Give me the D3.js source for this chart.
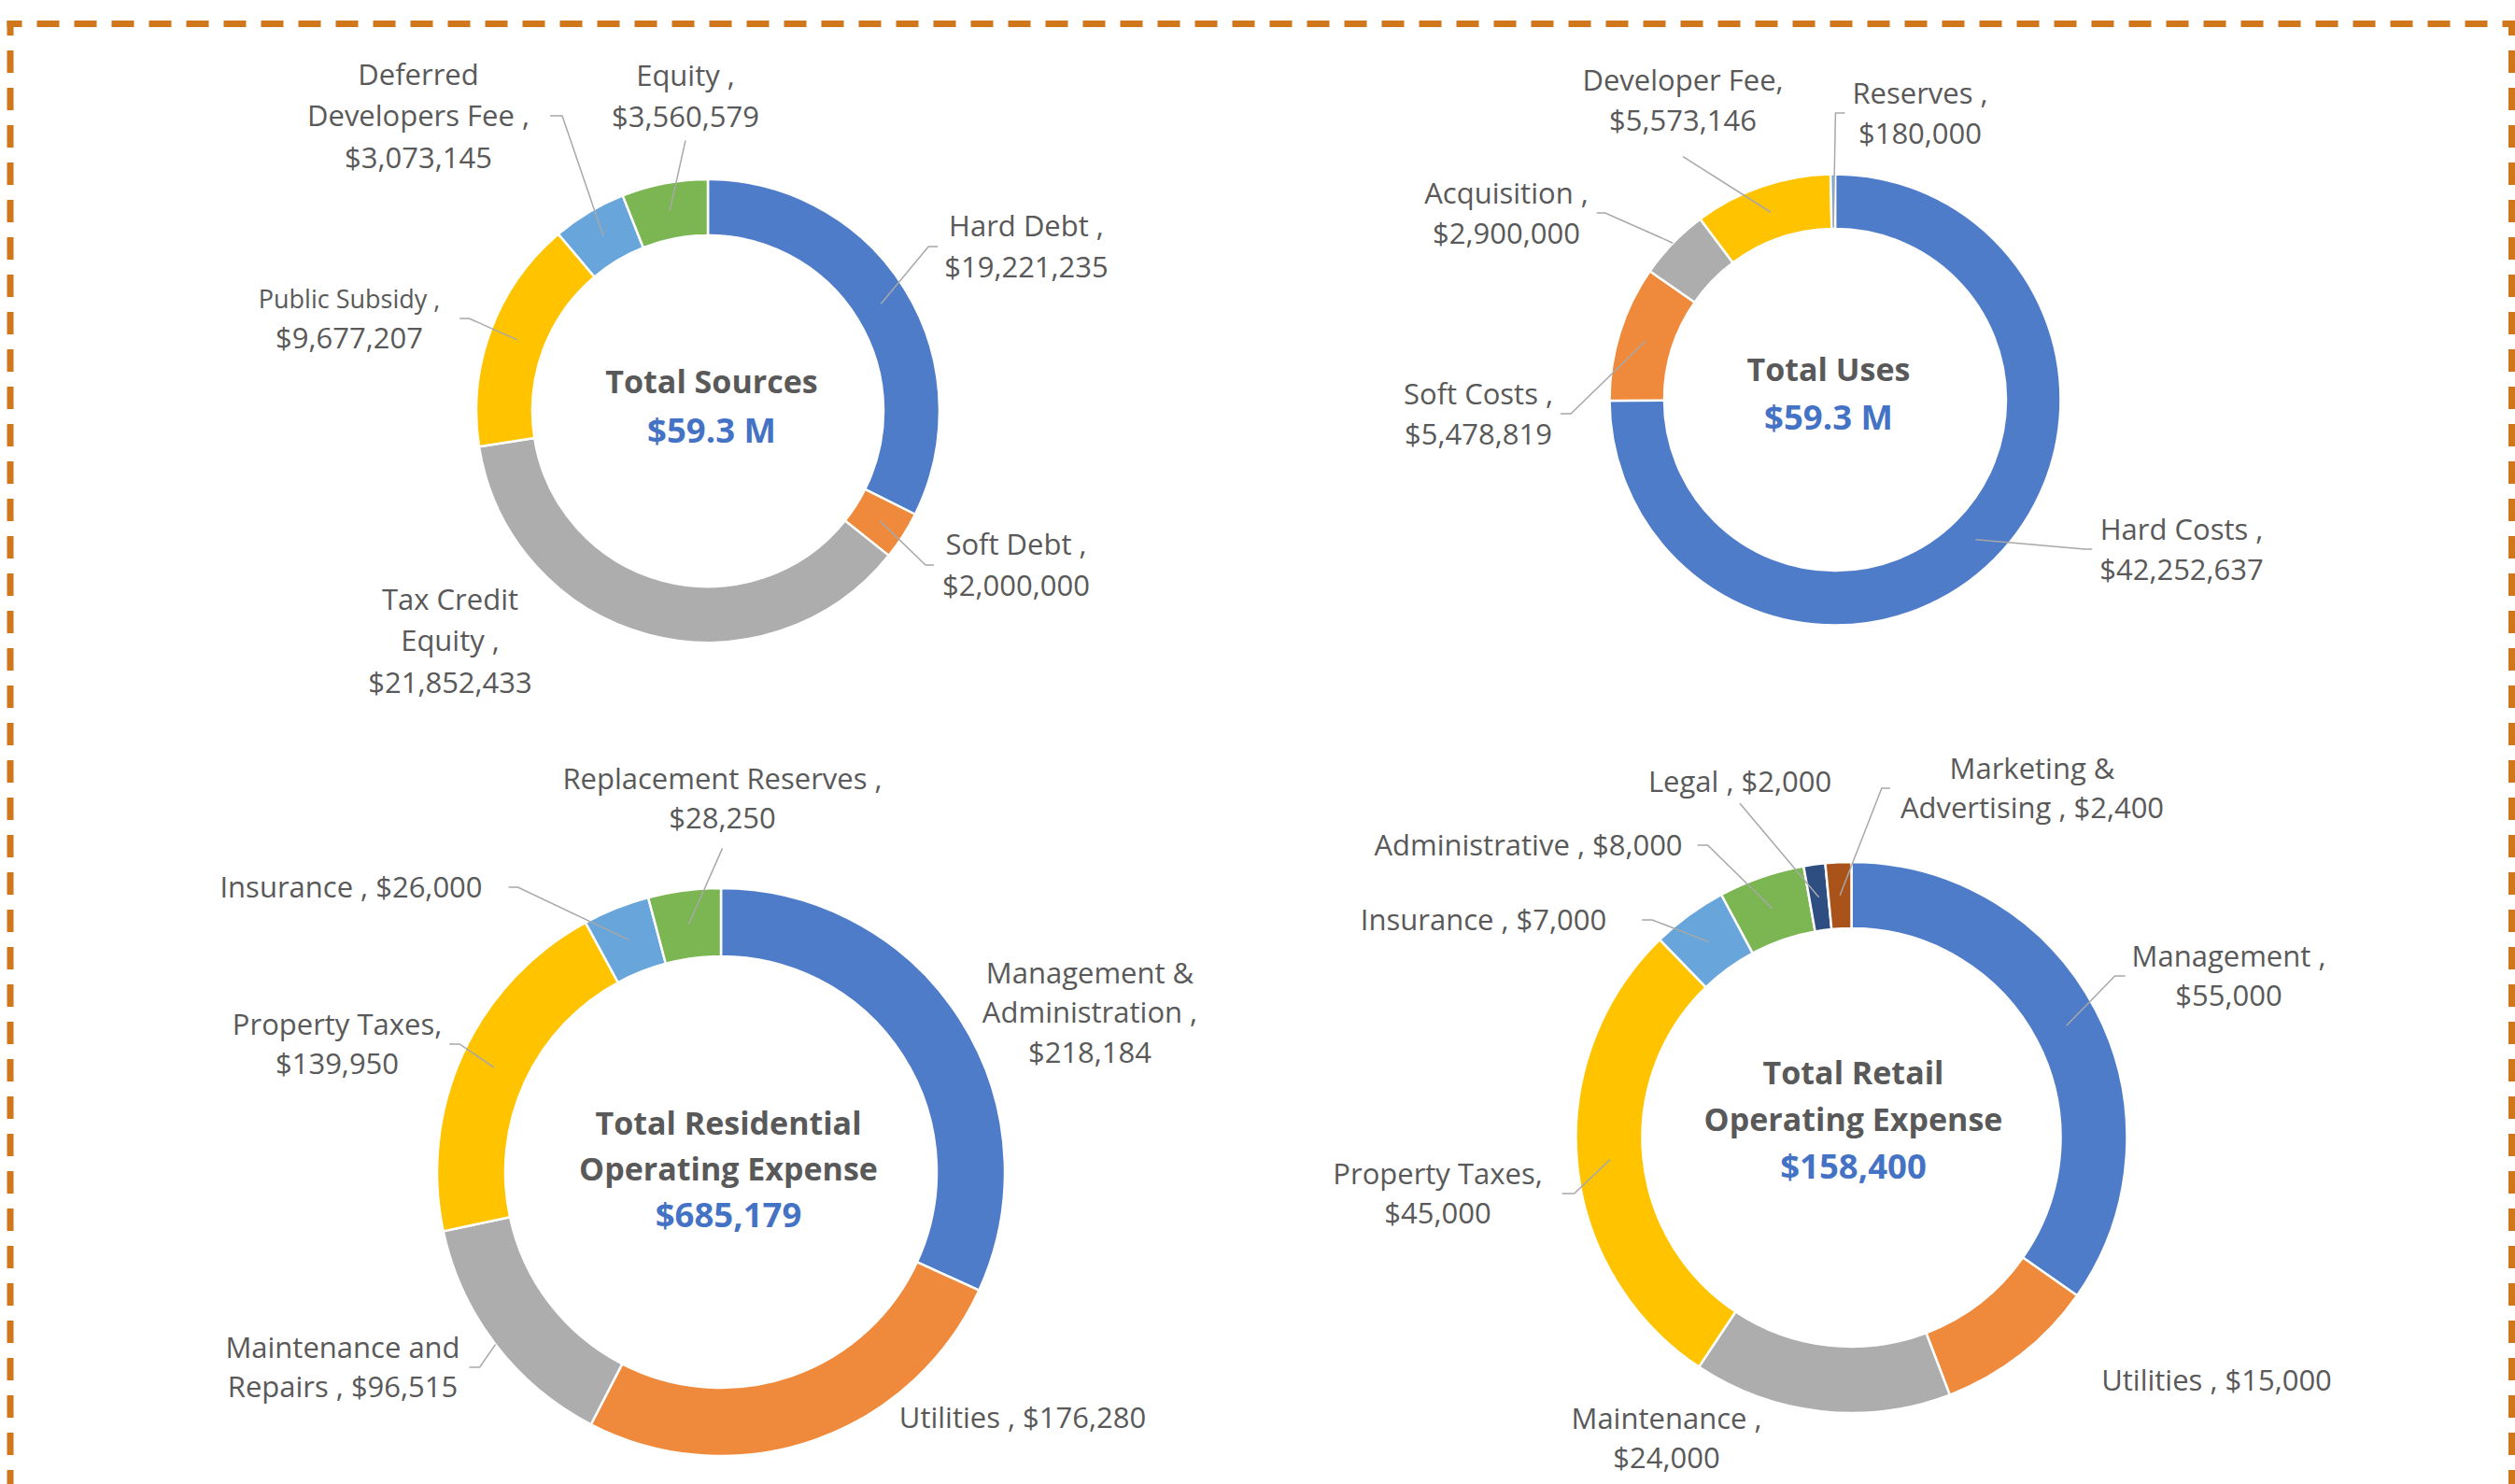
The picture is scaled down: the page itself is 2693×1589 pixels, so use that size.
<!DOCTYPE html>
<html><head><meta charset="utf-8">
<script src="https://cdn.jsdelivr.net/npm/d3@7"></script>
<style>html,body{margin:0;padding:0;background:#fff}svg{display:block}</style>
</head><body>
<svg id="c" width="2693" height="1589"></svg>
<script>
// ---------------- DATA ----------------
const sourcesCategories = ["Hard Debt","Soft Debt","Tax Credit Equity","Public Subsidy","Deferred Developers Fee","Equity"];
const sourcesValues = [19221235, 2000000, 21852433, 9677207, 3073145, 3560579];
const sourcesLabelLines = [["Hard Debt ,","{v}"],["Soft Debt ,","{v}"],["Tax Credit","Equity ,","{v}"],["Public Subsidy ,","{v}"],["Deferred","Developers Fee ,","{v}"],["Equity ,","{v}"]];
const sourcesTitle = ["Total Sources"];
const sourcesTotal = "$59.3 M";

const usesCategories = ["Hard Costs","Soft Costs","Acquisition","Developer Fee","Reserves"];
const usesValues = [42252637, 5478819, 2900000, 5573146, 180000];
const usesLabelLines = [["Hard Costs ,","{v}"],["Soft Costs ,","{v}"],["Acquisition ,","{v}"],["Developer Fee,","{v}"],["Reserves ,","{v}"]];
const usesTitle = ["Total Uses"];
const usesTotal = "$59.3 M";

const residentialCategories = ["Management & Administration","Utilities","Maintenance and Repairs","Property Taxes","Insurance","Replacement Reserves"];
const residentialValues = [218184, 176280, 96515, 139950, 26000, 28250];
const residentialLabelLines = [["Management &","Administration ,","{v}"],["Utilities , {v}"],["Maintenance and","Repairs , {v}"],["Property Taxes,","{v}"],["Insurance , {v}"],["Replacement Reserves ,","{v}"]];
const residentialTitle = ["Total Residential","Operating Expense"];
const residentialTotal = "$685,179";

const retailCategories = ["Management","Utilities","Maintenance","Property Taxes","Insurance","Administrative","Legal","Marketing & Advertising"];
const retailValues = [55000, 15000, 24000, 45000, 7000, 8000, 2000, 2400];
const retailLabelLines = [["Management ,","{v}"],["Utilities , {v}"],["Maintenance ,","{v}"],["Property Taxes,","{v}"],["Insurance , {v}"],["Administrative , {v}"],["Legal , {v}"],["Marketing &","Advertising , {v}"]];
const retailTitle = ["Total Retail","Operating Expense"];
const retailTotal = "$158,400";

// ---------------- STYLE / LAYOUT ----------------
const palette = ["#4E7CC9","#EF8A3C","#ADADAD","#FFC300","#67A5DA","#7BB652","#2E4D80","#A9521A"];
const TEXT = "#595959", BLUE = "#4472C4", LEADER = "#A8A8A8";
const FONT = "'Open Sans', sans-serif";
const LABEL_SIZE = 31, TITLE_SIZE = 34, TOTAL_SIZE = 36.5;

const layouts = {
  sources: {cx:758, cy:440, R:248, r:188, lh:44.5, tdx:4, tdy:-31, tstep:52,
    labels:[
      {dx:341, dy:-176, type:"side", gap:7, elbow:10},
      {dx:330, dy:165, type:"side", gap:9, elbow:9},
      {dx:-276, dy:246, type:"none"},
      {dx:-384, dy:-99, type:"side", gap:21, elbow:10, firstSize:27, lh:41},
      {dx:-310, dy:-316, type:"side", gap:22, elbow:13},
      {dx:-24, dy:-337, type:"below", gap:14}
    ]},
  uses: {cx:1965, cy:428, R:241.5, r:183, lh:43, tdx:-7, tdy:-32.5, tstep:51,
    labels:[
      {dx:371, dy:160, type:"side", gap:8, elbow:8},
      {dx:-382, dy:15, type:"side", gap:8, elbow:11},
      {dx:-352, dy:-200, type:"side", gap:9, elbow:9, lr:1},
      {dx:-163, dy:-321, type:"below", gap:28},
      {dx:91, dy:-307, type:"side", gap:8, elbow:10, lr:0.04}
    ]},
  residential: {cx:772, cy:1255, R:304, r:231, lh:42.5, tdx:8, tdy:-52, tstep:49,
    labels:[
      {dx:395, dy:-171, type:"none"},
      {dx:323, dy:263, type:"none"},
      {dx:-405, dy:209, type:"side", gap:10, elbow:11, lr:1},
      {dx:-411, dy:-137, type:"side", gap:8, elbow:11},
      {dx:-396, dy:-305, type:"side", gap:28, elbow:10},
      {dx:1.5, dy:-400, type:"below", gap:21}
    ]},
  retail: {cx:1982.5, cy:1218, R:295, r:224, lh:42.5, tdx:2, tdy:-69, tstep:50,
    labels:[
      {dx:404, dy:-173, type:"side", gap:7, elbow:11},
      {dx:391, dy:260, type:"none"},
      {dx:-198, dy:322, type:"none"},
      {dx:-443, dy:60, type:"side", gap:21, elbow:13},
      {dx:-394, dy:-233, type:"side", gap:38, elbow:11},
      {dx:-346, dy:-313, type:"side", gap:16, elbow:11},
      {dx:-119.5, dy:-381, type:"below", gap:12},
      {dx:193.5, dy:-374, type:"side", gap:11, elbow:9}
    ]}
};

const charts = [
  {key:"sources", cats:sourcesCategories, vals:sourcesValues, lines:sourcesLabelLines, title:sourcesTitle, total:sourcesTotal},
  {key:"uses", cats:usesCategories, vals:usesValues, lines:usesLabelLines, title:usesTitle, total:usesTotal},
  {key:"residential", cats:residentialCategories, vals:residentialValues, lines:residentialLabelLines, title:residentialTitle, total:residentialTotal},
  {key:"retail", cats:retailCategories, vals:retailValues, lines:retailLabelLines, title:retailTitle, total:retailTotal}
];

// ---------------- DRAW ----------------
const svg = d3.select("#c");
svg.append("rect").attr("width",2693).attr("height",1589).attr("fill","#fff");

// dashed frame
const frame = svg.append("g").attr("fill","none").attr("stroke","#D0771C")
  .attr("stroke-width",7).attr("stroke-dasharray","24 16").attr("stroke-dashoffset",8);
frame.append("line").attr("x1",7.5).attr("y1",25.5).attr("x2",2693).attr("y2",25.5);
frame.append("line").attr("x1",11).attr("y1",22).attr("x2",11).attr("y2",1600);
frame.append("line").attr("x1",2689.5).attr("y1",22).attr("x2",2689.5).attr("y2",1600);

const fmt = d3.format("$,");
const pie = d3.pie().sort(null).value(d => d);

charts.forEach(ch => {
  const L = layouts[ch.key];
  const g = svg.append("g").attr("transform", `translate(${L.cx},${L.cy})`);
  const arc = d3.arc().innerRadius(L.r).outerRadius(L.R);
  const arcs = pie(ch.vals);

  g.selectAll("path.slice").data(arcs).join("path")
    .attr("class","slice")
    .attr("d", arc)
    .attr("fill", (d,i) => palette[i])
    .attr("stroke","#fff").attr("stroke-width",2.5).attr("stroke-linejoin","round");

  const leaders = g.append("g").attr("fill","none").attr("stroke",LEADER).attr("stroke-width",1.5);
  const labels = g.append("g").attr("font-family",FONT).attr("fill",TEXT).attr("text-anchor","middle");

  arcs.forEach((a,i) => {
    const cfg = L.labels[i];
    const lines = ch.lines[i].map(s => s.replace("{v}", fmt(ch.vals[i])));
    const lh = cfg.lh || L.lh;
    const n = lines.length;
    const t = labels.append("text").attr("font-size", LABEL_SIZE);
    let lastBase = 0;
    lines.forEach((s,k) => {
      const fs = (k === 0 && cfg.firstSize) ? cfg.firstSize : LABEL_SIZE;
      const cy = cfg.dy + (k - (n-1)/2) * lh;
      const base = cy + 0.36*fs;
      lastBase = base;
      t.append("tspan").attr("x", cfg.dx).attr("y", base).attr("font-size", fs).text(s);
    });
    if (cfg.type === "none") return;
    const mid = (a.startAngle + a.endAngle)/2;
    const lr = cfg.lr === undefined ? 0.5 : cfg.lr;
    const rr = L.r + lr*(L.R - L.r);
    const sx = rr*Math.sin(mid), sy = -rr*Math.cos(mid);
    const bb = t.node().getBBox();
    let pts;
    if (cfg.type === "side") {
      if (cfg.dx > sx) {
        const ex = bb.x - cfg.gap;
        pts = [[sx,sy],[ex-cfg.elbow,cfg.dy],[ex,cfg.dy]];
      } else {
        const ex = bb.x + bb.width + cfg.gap;
        pts = [[sx,sy],[ex+cfg.elbow,cfg.dy],[ex,cfg.dy]];
      }
    } else {
      pts = [[sx,sy],[cfg.dx,lastBase + cfg.gap]];
    }
    leaders.append("path").attr("d", d3.line()(pts));
  });

  // center text
  const c = g.append("g").attr("font-family",FONT).attr("font-weight",700).attr("text-anchor","middle");
  ch.title.forEach((s,k) => {
    c.append("text").attr("x", L.tdx).attr("y", L.tdy + k*L.tstep + 0.36*TITLE_SIZE)
      .attr("font-size", TITLE_SIZE).attr("fill", TEXT).text(s);
  });
  c.append("text").attr("x", L.tdx).attr("y", L.tdy + ch.title.length*L.tstep + 0.36*TOTAL_SIZE)
    .attr("font-size", TOTAL_SIZE).attr("fill", BLUE).text(ch.total);
});
</script>
</body></html>
